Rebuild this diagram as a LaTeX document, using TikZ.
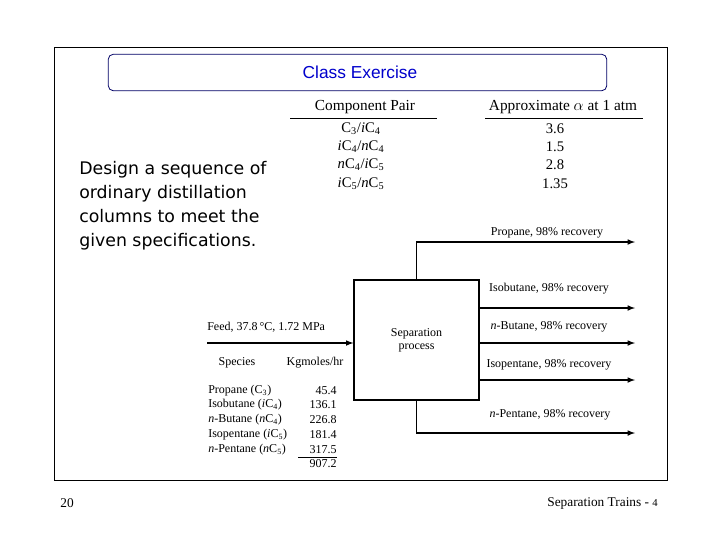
\documentclass[tikz,border=0pt]{standalone}
\usepackage{fontspec}
\setmainfont{Liberation Serif}
\newfontfamily\comic{DejaVu Sans}
\newfontfamily\hel{Liberation Sans}
\newcommand{\ii}[1]{\textit{#1}}
\begin{document}
\begin{tikzpicture}[x=0.75pt,y=-0.75pt,
  tx/.style={inner sep=0pt,font=\fontsize{9}{10}\selectfont},
  ln/.style={line width=0.9pt},
  arr/.style={ln,-{latex}}]
\useasboundingbox (0,0) rectangle (720,540);
\fill[white] (0,0) rectangle (720,540);
\draw[line width=0.6pt] (54,47) rectangle (667,480);
\node[draw=blue!40!black,rounded corners=4pt,minimum width=374pt,minimum height=27.5pt,line width=0.6pt] (title) at (357.5,72.5) {};
\node[text=blue!80!black,font=\hel\fontsize{13}{14}\selectfont] at (360,72) {Class Exercise};
\node[anchor=north west,align=left,inner sep=0pt,font=\comic\fontsize{13}{18}\selectfont] (desc) at (79,161) {Design a sequence of\\ordinary distillation\\columns to meet the\\given specifications.};
% alpha table
\node[tx,font=\fontsize{11.5}{12}\selectfont] (h1) at (365,107) {Component Pair};
\node[tx,font=\fontsize{11.5}{12}\selectfont] (h2) at (563,107) {Approximate $\alpha$ at 1 atm};
\draw[line width=0.5pt] (290,118) -- (437,118);
\draw[line width=0.5pt] (485,118) -- (643,118);
\foreach \a/\b/\y in {{C\textsubscript{3}/\ii{i}C\textsubscript{4}}/3.6/129,{\ii{i}C\textsubscript{4}/\ii{n}C\textsubscript{4}}/1.5/147,{\ii{n}C\textsubscript{4}/\ii{i}C\textsubscript{5}}/2.8/165,{\ii{i}C\textsubscript{5}/\ii{n}C\textsubscript{5}}/1.35/184}{
  \node[tx,font=\fontsize{11}{12}\selectfont] at (361,\y) {\a};
  \node[tx,font=\fontsize{11}{12}\selectfont] at (555,\y) {\b};}
% process box
\node[draw,ln,minimum width=93.75pt,minimum height=90pt,inner sep=0pt,align=center,font=\fontsize{9}{10}\selectfont] (box) at (416.5,340) {Separation\\process};
\coordinate (feed) at (207,343);
\draw[arr] (feed) -- (box.west |- feed);
\node[tx,anchor=west] at (207,327) {Feed, 37.8\,°C, 1.72 MPa};
\coordinate (p1) at (635,242);
\draw[arr] (box.north) -- (box.north |- p1) -- (p1);
\node[tx] at (547,233) {Propane, 98\% recovery};
\foreach \y/\l/\t in {308/289/{Isobutane, 98\% recovery},343/327/{\ii{n}-Butane, 98\% recovery},380/365/{Isopentane, 98\% recovery}}{
  \coordinate (o\y) at (635,\y);
  \draw[arr] (box.east |- o\y) -- (o\y);
  \node[tx] at (549,\l) {\t};}
\coordinate (p5) at (635,433);
\draw[arr] (box.south) -- (box.south |- p5) -- (p5);
\node[tx] at (550,415) {\ii{n}-Pentane, 98\% recovery};
% species table
\node[tx] at (237,363) {Species};
\node[tx] at (315,363) {Kgmoles/hr};
\foreach \n/\v/\y in {{Propane (C\textsubscript{3})}/45.4/391,{Isobutane (\ii{i}C\textsubscript{4})}/136.1/405,{\ii{n}-Butane (\ii{n}C\textsubscript{4})}/226.8/420,{Isopentane (\ii{i}C\textsubscript{5})}/181.4/435,{\ii{n}-Pentane (\ii{n}C\textsubscript{5})}/317.5/450,{}/907.2/464}{
  \node[tx,anchor=west] at (208,\y) {\n};
  \node[tx,anchor=east] at (337,\y) {\v};}
\draw[line width=0.5pt] (298,457) -- (337,457);
\node[font=\fontsize{10}{12}\selectfont] at (67,503) {20};
\node[anchor=east,inner sep=0pt,font=\fontsize{10}{12}\selectfont] at (658,503) {Separation Trains - {\fontsize{8}{10}\selectfont 4}};
\end{tikzpicture}
\end{document}
